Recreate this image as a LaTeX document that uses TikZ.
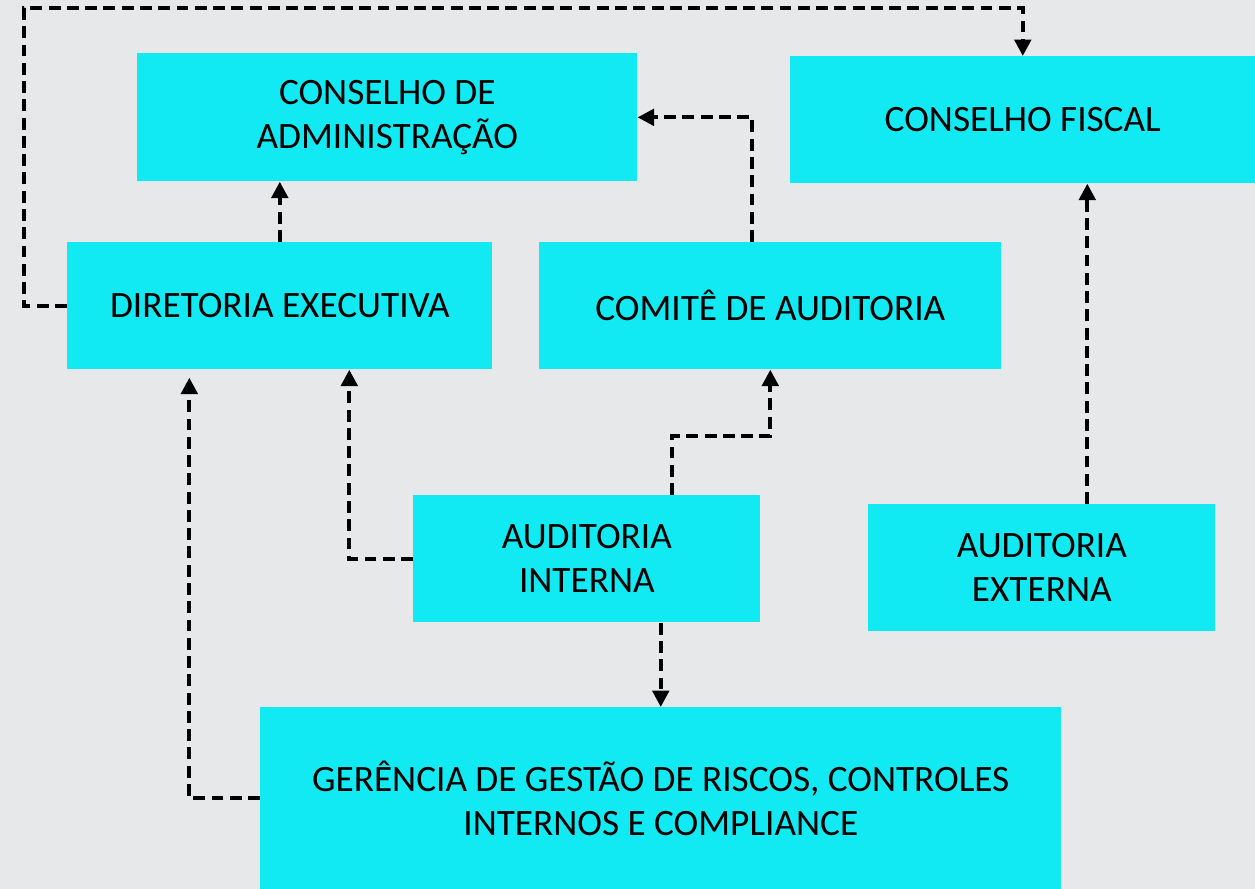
\documentclass[tikz,border=0pt]{standalone}
\usepackage{fontspec}
\setmainfont{Carlito}
\usetikzlibrary{arrows.meta,positioning}
\definecolor{ciano}{HTML}{11EAF2}
\definecolor{fundo}{HTML}{E7E8EA}
\tikzset{
    caixa/.style = {fill = ciano, anchor = north west, inner sep = 0pt, align = center,
        minimum height = 2.54cm, font = \fontsize{21.2}{25}\selectfont},
    seta/.style = {line width = 2.2pt, dash pattern = on 6.8pt off 3.6pt,
        -{Triangle[length = .33cm, width = .33cm]}}
}

\begin{document}
\begin{tikzpicture}[x = .02cm, y = -.02cm]
    \fill[fundo] (0,0) rectangle (1255,889);
    \useasboundingbox (0,0) rectangle (1255,889);

    \node[caixa, minimum width = 10cm, minimum height = 2.56cm] (cadm) at (137,53) {CONSELHO DE\\ADMINISTRAÇÃO};
    \node[caixa, minimum width = 9.3cm] (cfis) at (790,56) {CONSELHO FISCAL};
    \node[caixa, minimum width = 8.5cm] (dir) at (67,242) {DIRETORIA EXECUTIVA};
    \node[caixa, minimum width = 9.24cm] (com) at (539,242) {COMITÊ DE AUDITORIA};
    \node[caixa, minimum width = 6.94cm] (aint) at (413,495) {AUDITORIA\\INTERNA};
    \node[caixa, minimum width = 6.94cm] (aext) at (868,504) {AUDITORIA\\EXTERNA};
    \node[caixa, minimum width = 16.02cm, minimum height = 3.64cm] (ger) at (260,707) {GERÊNCIA DE GESTÃO DE RISCOS, CONTROLES\\INTERNOS E COMPLIANCE};

    \coordinate (topo) at (24,8);
    \coordinate (ae) at ([xshift = .91cm]aext.north);
    \coordinate (ca) at ([xshift = -.36cm]com.north);
    \coordinate (ai) at ([xshift = 1.71cm]aint.north);

    \draw[seta] (dir.west) -| (topo) -| (cfis.north);
    \draw[seta] (dir.north) -- (dir.north |- cadm.south);
    \draw[seta] (ca) |- (cadm.east);
    \draw[seta] (ai) -- ++(0,-59) -| (com.south);
    \draw[seta] (aint.west) -| ([xshift = 1.39cm]dir.south);
    \draw[seta] (ger.north |- aint.south) -- (ger.north);
    \draw[seta, shorten > = .16cm] (ger.west) -| ([xshift = -1.81cm]dir.south);
    \draw[seta] (ae) -- (ae |- cfis.south);
\end{tikzpicture}
\end{document}
